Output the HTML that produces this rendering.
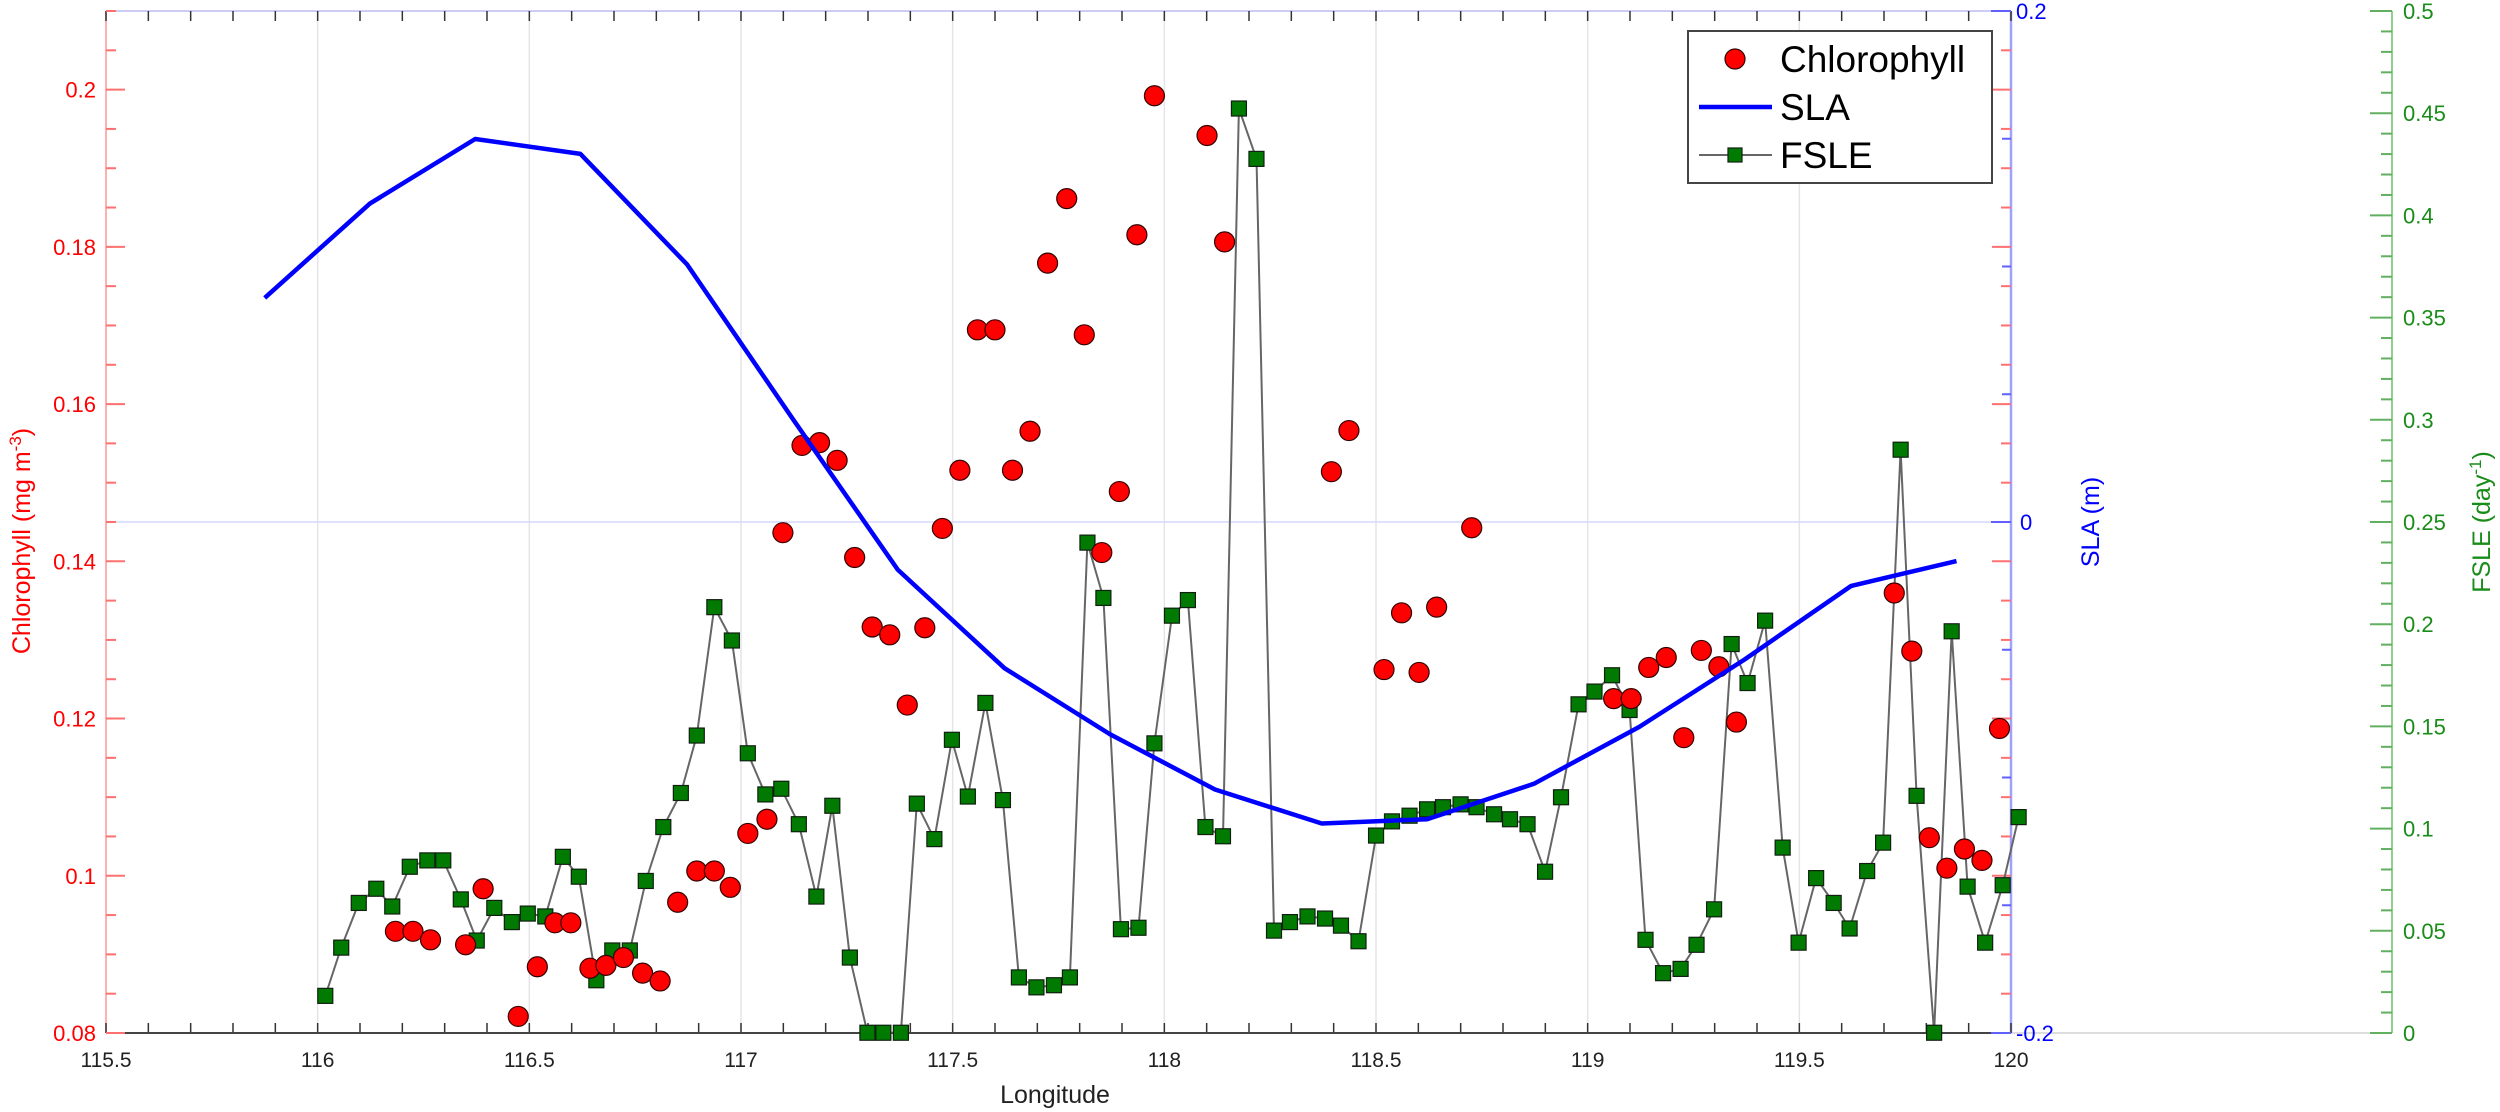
<!DOCTYPE html>
<html><head><meta charset="utf-8">
<style>
html,body{margin:0;padding:0;background:#fff;}
svg{display:block;font-family:"Liberation Sans",Arial,sans-serif;}
</style></head>
<body>
<svg id="s" width="2500" height="1112" xmlns="http://www.w3.org/2000/svg">
<rect width="2500" height="1112" fill="#fff"/>
<g id="g"></g>
<text x="1055" y="1103" font-size="25" fill="#222" text-anchor="middle">Longitude</text>
<text transform="translate(30,541) rotate(-90)" font-size="25" fill="#ff0000" text-anchor="middle">Chlorophyll (mg m<tspan dy="-9" font-size="17">-3</tspan><tspan dy="9">)</tspan></text>
<text transform="translate(2099,522) rotate(-90)" font-size="25" fill="#0000ff" text-anchor="middle">SLA (m)</text>
<text transform="translate(2490,522) rotate(-90)" font-size="25" fill="#1a8c1a" text-anchor="middle">FSLE (day<tspan dy="-9" font-size="17">-1</tspan><tspan dy="9">)</tspan></text>
<!-- legend -->
<rect x="1688" y="31" width="304" height="152" fill="#fff" stroke="#444" stroke-width="2"/>
<circle cx="1735" cy="59" r="10" fill="#ff0000" stroke="#300" stroke-width="1.2"/>
<text x="1780" y="72" font-size="37" fill="#000">Chlorophyll</text>
<line x1="1699" y1="107" x2="1772" y2="107" stroke="#0000ff" stroke-width="4.5"/>
<text x="1780" y="120" font-size="37" fill="#000">SLA</text>
<line x1="1699" y1="155" x2="1772" y2="155" stroke="#666" stroke-width="2"/>
<rect x="1728" y="148" width="14" height="14" fill="#007a00" stroke="#102010" stroke-width="1.2"/>
<text x="1780" y="168" font-size="37" fill="#000">FSLE</text>
</svg>
<script>
var g=document.getElementById('g');var NS='http://www.w3.org/2000/svg';
function el(t,a){var e=document.createElementNS(NS,t);for(var k in a)e.setAttribute(k,a[k]);g.appendChild(e);return e;}
function tx(x,y,s,a){var e=el('text',a);e.textContent=s;return e;}
var X0=106,X1=2011,Y0=11,Y1=1033;
function lx(l){return X0+(l-115.5)/4.5*(X1-X0);}
function cy(v){return Y1-(v-0.08)/0.13*(Y1-Y0);}
function sy(v){return Y1-(v+0.2)/0.4*(Y1-Y0);}
function fy(v){return Y1-v/0.5*(Y1-Y0);}
// grid
for(var l=116;l<120;l+=0.5)el('line',{x1:lx(l),y1:Y0,x2:lx(l),y2:Y1,stroke:'#e4e4ea','stroke-width':1.5});
el('line',{x1:X0,y1:sy(0),x2:X1,y2:sy(0),stroke:'#d6d6ff','stroke-width':1.5});
// axes
el('line',{x1:X0,y1:Y0,x2:X1,y2:Y0,stroke:'#ccccf4','stroke-width':2});
el('line',{x1:X1,y1:Y1,x2:2392,y2:Y1,stroke:'#ddd','stroke-width':2});
el('line',{x1:X0,y1:Y0,x2:X0,y2:Y1,stroke:'#ffb0b0','stroke-width':2});
el('line',{x1:X1,y1:Y0,x2:X1,y2:Y1,stroke:'#a0a0ff','stroke-width':2.5});
el('line',{x1:2392,y1:Y0,x2:2392,y2:Y1,stroke:'#8fd08f','stroke-width':2});
// x ticks
for(var i=0;i<=45;i++){var x=lx(115.5+i*0.1);
 el('line',{x1:x,y1:Y1,x2:x,y2:Y1-10,stroke:'#333','stroke-width':1.5});
 el('line',{x1:x,y1:Y0,x2:x,y2:Y0+10,stroke:'#333','stroke-width':1.5});}
el('line',{x1:X0,y1:Y1,x2:X1,y2:Y1,stroke:'#444','stroke-width':2});
var xl=['115.5','116','116.5','117','117.5','118','118.5','119','119.5','120'];
for(var i=0;i<xl.length;i++)tx(0,0,xl[i],{x:lx(115.5+i*0.5),y:1067,'font-size':21,fill:'#222','text-anchor':'middle'});
// chl ticks
for(var i=0;i<=26;i++){var v=0.08+i*0.005,y=cy(v),maj=(i%4==0);var L=maj?19:10;
 el('line',{x1:X0,y1:y,x2:X0+L,y2:y,stroke:'#ff7070','stroke-width':2});
 el('line',{x1:X1,y1:y,x2:X1-L,y2:y,stroke:'#ff7070','stroke-width':2});
 if(maj)tx(0,0,(Math.round(v*100)/100).toString(),{x:96,y:y+8,'font-size':22,fill:'#ff0000','text-anchor':'end'});}
// sla ticks
for(var i=0;i<=8;i++){var v=-0.2+i*0.05,y=sy(v);var L=(i%4==0)?20:9;
 el('line',{x1:X1,y1:y,x2:X1-L,y2:y,stroke:'#6060ff','stroke-width':2});}
tx(0,0,'0.2',{x:2016,y:19,'font-size':22,fill:'#0000ff'});
tx(0,0,'0',{x:2020,y:530,'font-size':22,fill:'#0000ff'});
tx(0,0,'-0.2',{x:2016,y:1041,'font-size':22,fill:'#0000ff'});
// fsle ticks
for(var i=0;i<=50;i++){var v=i*0.01,y=fy(v);var maj=(i%5==0);var L=maj?22:11;
 el('line',{x1:2392,y1:y,x2:2392-L,y2:y,stroke:'#60b060','stroke-width':2});
 if(maj){var s=(Math.round(v*100)/100).toString();tx(0,0,s,{x:2403,y:y+8,'font-size':22,fill:'#1a8c1a'});}}
// data in Z coords (x*1.594, y*0.709)
function P(a){return a.map(function(p){return [p[0]*1.5945,p[1]*0.7093];});}
var sla=P([[166,420],[232,287],[298,196],[364,217],[431,373],[497,590],[563,803],[630,942],[696,1035],[762,1113],[829,1161],[895,1155],[962,1105],[1028,1025],[1094,930],[1161,826],[1227,791]]);
var fs=P([[204,1404],[214,1336],[225,1273],[236,1253],[246,1278],[257,1222],[268,1213],[278,1213],[289,1268],[299,1326],[310,1280],[321,1300],[331,1288],[342,1292],[353,1208],[363,1236],[374,1382],[384,1340],[395,1340],[405,1242],[416,1166],[427,1118],[437,1037],[448,856],[459,903],[469,1062],[480,1120],[490,1112],[501,1162],[512,1264],[522,1136],[533,1350],[544,1456],[554,1456],[565,1456],[575,1133],[586,1183],[597,1043],[607,1123],[618,991],[629,1128],[639,1378],[650,1392],[661,1389],[671,1378],[682,765],[692,843],[703,1310],[714,1308],[724,1048],[735,868],[745,846],[756,1166],[767,1179],[777,153],[788,224],[799,1312],[809,1300],[820,1292],[831,1295],[841,1305],[852,1327],[863,1178],[873,1158],[884,1150],[895,1141],[905,1138],[916,1134],[926,1138],[937,1148],[947,1155],[958,1162],[969,1229],[979,1124],[990,993],[1000,975],[1011,952],[1022,1001],[1032,1325],[1043,1372],[1054,1366],[1064,1332],[1075,1282],[1086,908],[1096,963],[1107,875],[1118,1195],[1128,1329],[1139,1238],[1150,1273],[1160,1309],[1171,1228],[1181,1188],[1192,634],[1202,1122],[1213,1456],[1224,890],[1234,1250],[1245,1329],[1256,1248],[1266,1152]]);
var ch=P([[248,1313],[259,1313],[270,1325],[292,1332],[303,1253],[325,1433],[337,1363],[348,1301],[358,1301],[370,1365],[380,1361],[391,1350],[403,1372],[414,1383],[425,1272],[437,1228],[448,1228],[458,1251],[469,1175],[481,1155],[491,751],[503,628],[514,624],[525,649],[536,786],[547,884],[558,895],[569,994],[580,885],[591,745],[602,663],[613,465],[624,465],[635,663],[646,608],[657,371],[669,280],[680,472],[691,779],[702,693],[713,331],[724,135],[757,191],[768,341],[835,665],[846,607],[868,944],[879,864],[890,948],[901,856],[923,744],[1012,985],[1023,985],[1034,941],[1045,927],[1056,1040],[1067,917],[1078,940],[1089,1018],[1188,836],[1199,918],[1210,1181],[1221,1224],[1232,1197],[1243,1213],[1254,1027]]);
function pts(a){return a.map(function(p){return p[0].toFixed(1)+','+p[1].toFixed(1);}).join(' ');}
el('polyline',{points:pts(fs),fill:'none',stroke:'#666','stroke-width':2});
fs.forEach(function(p){el('rect',{x:p[0]-7.5,y:p[1]-7.5,width:15,height:15,fill:'#007a00',stroke:'#102010','stroke-width':1.2});});
ch.forEach(function(p){el('circle',{cx:p[0],cy:p[1],r:10,fill:'#ff0000',stroke:'#300','stroke-width':1.2});});
el('polyline',{points:pts(sla),fill:'none',stroke:'#0000ff','stroke-width':4.5,'stroke-linejoin':'round'});
</script>
</body></html>
